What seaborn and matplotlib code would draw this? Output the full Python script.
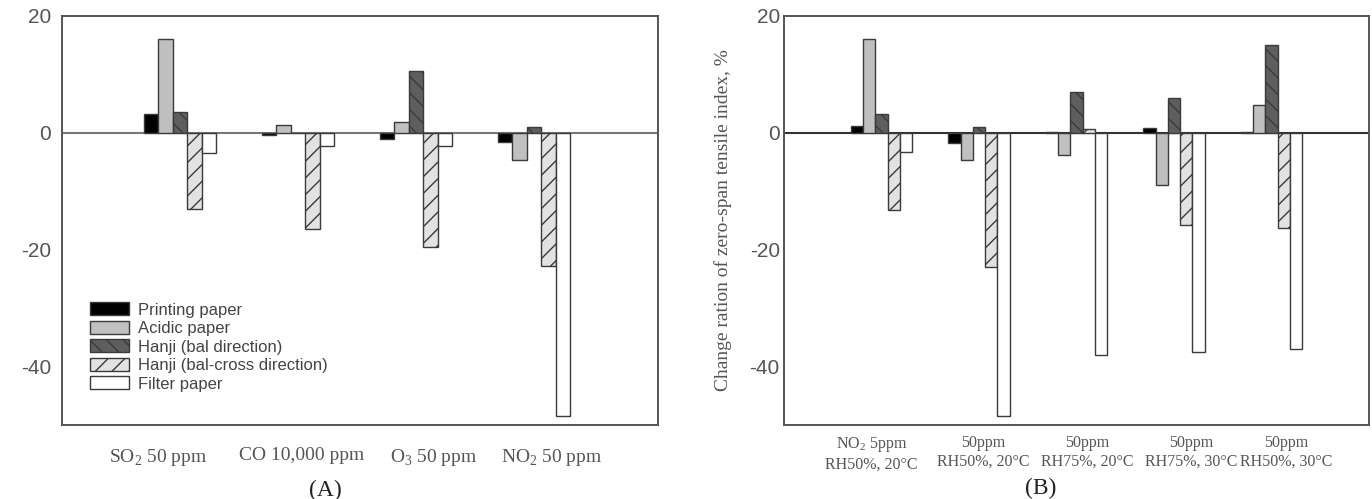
import pandas as pd
import seaborn as sns
import matplotlib.pyplot as plt

sns.set_style("white")
plt.rcParams["axes.unicode_minus"] = False
plt.rcParams["mathtext.fontset"] = "custom"
plt.rcParams["mathtext.rm"] = "Liberation Serif"
plt.rcParams["hatch.linewidth"] = 1.0

# --- data ---
materials = ["Printing paper", "Acidic paper", "Hanji (bal direction)",
             "Hanji (bal-cross direction)", "Filter paper"]

gases_a = ["SO$_2$ 50 ppm", "CO 10,000 ppm", "O$_3$ 50 ppm", "NO$_2$ 50 ppm"]
printing_a = [3.3, -0.4, -1.0, -1.6]
acidic_a = [16.0, 1.3, 1.8, -4.6]
hanji_bal_a = [3.5, 0.0, 10.5, 1.0]
hanji_cross_a = [-13.0, -16.5, -19.5, -22.8]
filter_a = [-3.5, -2.3, -2.3, -48.5]

conds_b = ["NO$_2$ 5ppm\nRH50%, 20°C", "50ppm\nRH50%, 20°C", "50ppm\nRH75%, 20°C",
           "50ppm\nRH75%, 30°C", "50ppm\nRH50%, 30°C"]
printing_b = [1.2, -1.8, 0.2, 0.8, 0.2]
acidic_b = [16.0, -4.7, -3.8, -9.0, 4.7]
hanji_bal_b = [3.3, 1.0, 7.0, 6.0, 15.0]
hanji_cross_b = [-13.2, -23.0, 0.7, -15.8, -16.2]
filter_b = [-3.3, -48.5, -38.0, -37.5, -37.0]

colors = ["#000000", "#c0c0c0", "#5e5e5e", "#e2e2e2", "#ffffff"]
hatches = ["", "", "\\\\", "//", ""]
ylab = "Change ration of zero-span tensile index, %"
grey = "#555555"

# tick label spots (the labels sit a bit off the group centres in the original)
label_pos_a = [-0.19, 1.03, 2.15, 3.15]
label_pos_b = [-0.1, 1.04, 2.11, 3.18, 4.15]


def long_df(conds, series):
    rows = []
    for mat, vals in zip(materials, series):
        for c, v in zip(conds, vals):
            rows.append({"cond": c, "mat": mat, "val": v})
    return pd.DataFrame(rows)


df_a = long_df(gases_a, [printing_a, acidic_a, hanji_bal_a, hanji_cross_a, filter_a])
df_b = long_df(conds_b, [printing_b, acidic_b, hanji_bal_b, hanji_cross_b, filter_b])

fig = plt.figure(figsize=(13.72, 4.99), dpi=100)
ax_a = fig.add_axes([0.0452, 0.148, 0.4344, 0.82])
ax_b = fig.add_axes([0.5714, 0.148, 0.4264, 0.82])

for ax, df, conds, width in [(ax_a, df_a, gases_a, 0.61), (ax_b, df_b, conds_b, 0.63)]:
    sns.barplot(data=df, x="cond", y="val", hue="mat", order=conds, hue_order=materials,
                palette=colors, saturation=1, width=width, errorbar=None,
                edgecolor="#3a3a3a", linewidth=1.0, legend=False, ax=ax)
    for cont, h in zip(ax.containers, hatches):
        for bar in cont:
            bar.set_hatch(h)
    ax.set_ylim(-50, 20)
    ax.set_yticks([20, 0, -20, -40])
    ax.set_yticklabels(["20", "0", "-20", "-40"], fontfamily="Liberation Sans", fontsize=15)
    ax.set_xlabel("")
    ax.set_ylabel(ylab, fontfamily="Liberation Serif", fontsize=14, color=grey)
    ax.tick_params(axis="y", direction="in", length=5, width=1, color="#333333", labelcolor=grey)
    ax.tick_params(axis="x", length=0, labelcolor=grey)
    for sp in ax.spines.values():
        sp.set_visible(True)
        sp.set_color("#555555")
        sp.set_linewidth(1.4)

# panel A
ax_a.set_xlim(-1, 4.05)
ax_a.axhline(0, color="#777777", lw=1.5, zorder=0)
ax_a.set_xticks(label_pos_a)
ax_a.set_xticklabels(gases_a, fontfamily="Liberation Serif", fontsize=14)
ax_a.tick_params(axis="x", pad=16)
ax_a.tick_params(axis="y", pad=8)
ax_a.yaxis.set_label_coords(-0.111, 0.5)
ax_a.legend(ax_a.containers, materials, loc="upper left", bbox_to_anchor=(0.047, 0.30),
            frameon=False, prop={"family": "Liberation Sans", "size": 12}, labelcolor="#444444",
            handlelength=2.35, handleheight=0.8, labelspacing=0.2, borderpad=0,
            borderaxespad=0, handletextpad=0.5)

# panel B
ax_b.set_xlim(-1, 5)
ax_b.axhline(0, color="#333333", lw=1.5, zorder=0)
ax_b.set_xticks(label_pos_b)
ax_b.set_xticklabels(conds_b, fontfamily="Liberation Serif", fontsize=11.5)
ax_b.tick_params(axis="x", pad=7)
ax_b.tick_params(axis="y", pad=3)
ax_b.yaxis.set_label_coords(-0.088, 0.5)

fig.text(325 / 1372, 1 - 480 / 499, "(A)", ha="center", va="top",
         fontfamily="Liberation Serif", fontsize=17, color="#222222")
fig.text(1041 / 1372, 1 - 478 / 499, "(B)", ha="center", va="top",
         fontfamily="Liberation Serif", fontsize=17, color="#222222")

fig.savefig("out.png", dpi=100, facecolor="white")
